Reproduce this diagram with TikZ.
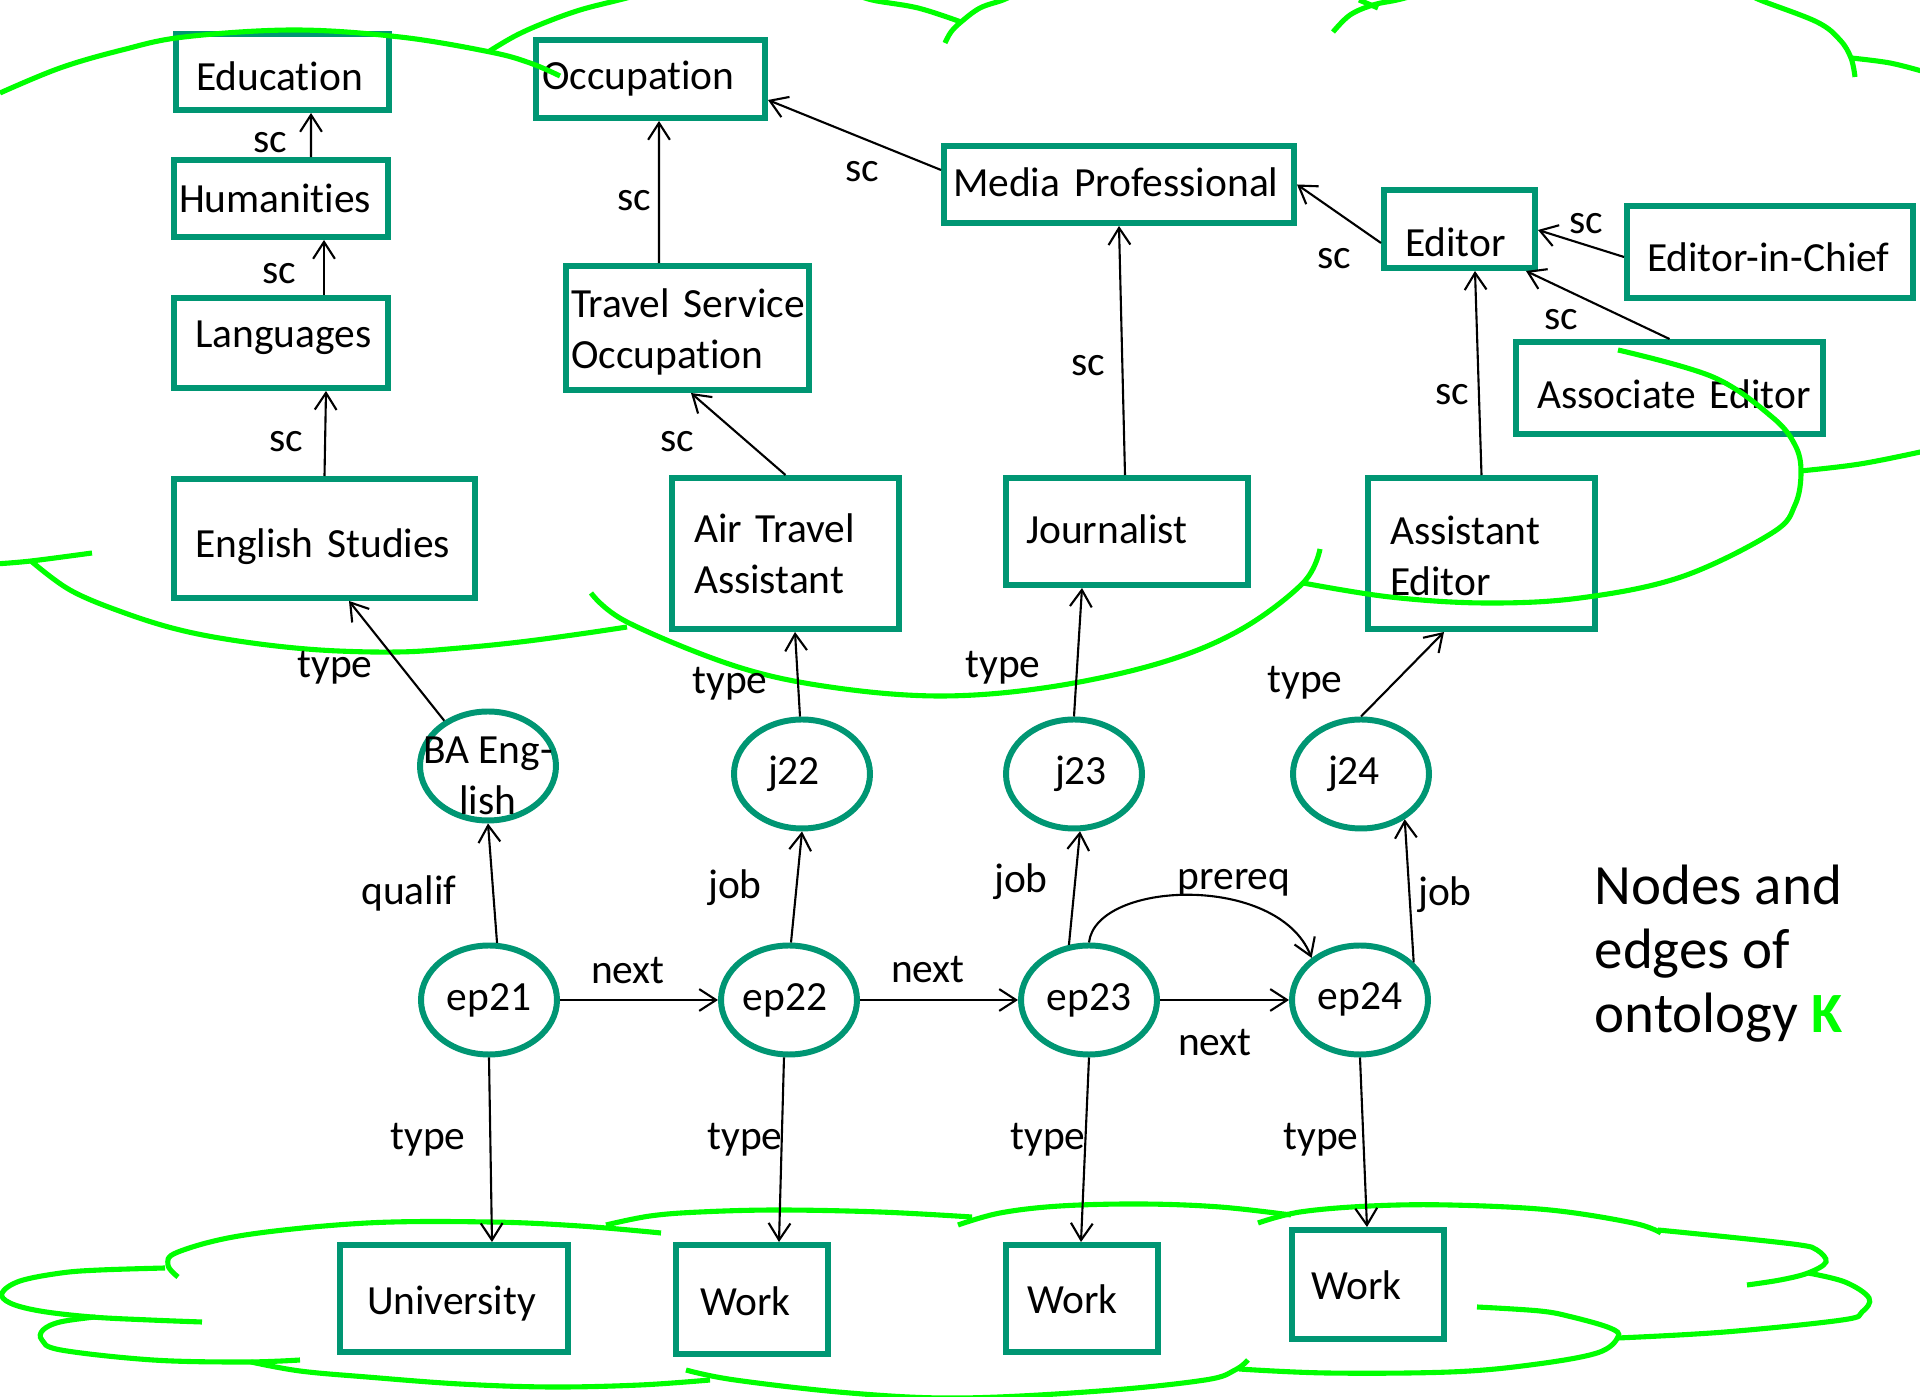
\documentclass[tikz,border=0pt]{standalone}
\usepackage{fontspec}
\setmainfont{Carlito}[Ligatures=NoCommon]
\usetikzlibrary{arrows.meta,shapes.geometric}
\definecolor{boxteal}{RGB}{0,150,115}
\definecolor{cloudgreen}{RGB}{0,255,0}
\newcommand{\bodyfs}{\fontsize{11.8pt}{14.5pt}\selectfont}
\newcommand{\titlefs}{\fontsize{16.2pt}{18.2pt}\selectfont}
\newcommand{\dn}[2]{\raisebox{-#1}[\height][\depth]{#2}}
\begin{document}
\begin{tikzpicture}[x=0.1mm,y=-0.1mm,
  box/.style={draw=boxteal, line width=1.7pt, rectangle, inner ysep=0pt, align=left, font=\bodyfs},
  circ/.style={draw=boxteal, line width=1.7pt, ellipse, inner sep=0pt, minimum width=13.6mm, minimum height=10.9mm, font=\bodyfs},
  arr/.style={-{Straight Barb[length=4.8pt,width=6.2pt]}, line width=0.6pt, black},
  lbl/.style={font=\bodyfs, inner sep=0pt},
  cloud/.style={draw=cloudgreen, line width=1.45pt},
  smoothc/.style={smooth, tension=0.6}
]
\fill[white] (0,0) rectangle (1920,1397);
\useasboundingbox (0,0) rectangle (1920,1397);

% boxes
\node[box, minimum width=21.3mm, minimum height=7.6mm, inner xsep=2mm, text width=17.3mm] (edu) at (282.5,72) {\dn{0.4mm}{Education}};
\node[box, minimum width=21.4mm, minimum height=7.7mm, inner xsep=0.5mm, text width=20.4mm] (hum) at (281,198.5) {\mbox{Humanities}};
\node[box, minimum width=21.4mm, minimum height=9.0mm, inner xsep=2.1mm, text width=17.2mm] (lang) at (281,343) {\dn{-0.5mm}{Languages}};
\node[box, minimum width=30.1mm, minimum height=11.9mm, inner xsep=2.1mm, text width=25.9mm] (eng) at (324.5,538.5) {\dn{0.8mm}{English Studies}};
\node[box, minimum width=22.9mm, minimum height=7.8mm, inner xsep=0.6mm, text width=21.7mm] (occ) at (650.5,79) {\mbox{Occupation}};
\node[box, minimum width=24.3mm, minimum height=12.4mm, inner xsep=0.5mm, text width=23.3mm] (tso) at (687.5,328) {\dn{0.4mm}{Travel Service}\\\dn{0.4mm}{Occupation}};
\node[box, minimum width=22.7mm, minimum height=15.1mm, inner xsep=2.2mm, text width=18.3mm] (ata) at (785.5,553.5) {\mbox{Air Travel}\\\mbox{Assistant}};
\node[box, minimum width=35.0mm, minimum height=7.7mm, inner xsep=0.9mm, text width=33.2mm] (med) at (1119,184.5) {\dn{-0.2mm}{Media Professional}};
\node[box, minimum width=15.1mm, minimum height=7.8mm, inner xsep=2.1mm, text width=10.9mm] (edt) at (1459.5,229) {\dn{1.3mm}{Editor}};
\node[box, minimum width=28.6mm, minimum height=9.2mm, inner xsep=2mm, text width=24.6mm] (eic) at (1770,252) {\dn{0.5mm}{Editor-in-Chief}};
\node[box, minimum width=30.7mm, minimum height=9.2mm, inner xsep=2.1mm, text width=26.5mm] (aed) at (1669.5,388) {\dn{0.6mm}{Associate Editor}};
\node[box, minimum width=24.2mm, minimum height=10.7mm, inner xsep=2mm, text width=20.2mm] (jou) at (1127,531.5) {\dn{-0.2mm}{Journalist}};
\node[box, minimum width=22.7mm, minimum height=15.1mm, inner xsep=2.2mm, text width=18.3mm] (ase) at (1481.5,553.5) {\dn{0.2mm}{Assistant}\\\dn{0.2mm}{Editor}};
\node[box, minimum width=22.8mm, minimum height=10.7mm, inner xsep=2.7mm, text width=17.4mm] (uni) at (454,1298.5) {\dn{0.5mm}{University}};
\node[box, minimum width=15.2mm, minimum height=10.9mm, inner xsep=2.4mm, text width=10.4mm] (wk1) at (752,1299.5) {\dn{0.2mm}{Work}};
\node[box, minimum width=15.2mm, minimum height=10.7mm, inner xsep=2.1mm, text width=11mm] (wk2) at (1082,1298.5) {\dn{0.1mm}{Work}};
\node[box, minimum width=15.2mm, minimum height=10.9mm, inner xsep=1.9mm, text width=11.4mm] (wk3) at (1368,1284.5) {\dn{0.1mm}{Work}};

% ellipses
\node[circ] (ba) at (488,766) {\raisebox{-6.6pt}[0pt][0pt]{\makebox[0pt]{\begin{tabular}{@{}c@{}}BA Eng-\\lish\end{tabular}}}};
\node[circ] (j22) at (802,774) {\kern-1.6mm j22};
\node[circ] (j23) at (1074,774) {j23\kern-1.4mm};
\node[circ] (j24) at (1361,774) {\kern-1.4mm j24};
\node[circ] (ep21) at (489,1000) {ep21};
\node[circ] (ep22) at (789,1000) {\kern-0.8mm ep22};
\node[circ] (ep23) at (1089,1000) {ep23};
\node[circ] (ep24) at (1360,1000) {\raisebox{2pt}{ep24}};

% title
\node[font=\titlefs, align=left, anchor=north west, inner sep=0pt] (title) at (1594,864) {Nodes and\\edges of\\ontology {\bfseries\color{cloudgreen}K}};

% clouds
\begin{scope}
\clip (0,0) rectangle (1920,1397);
\draw[cloud] plot[smoothc] coordinates {(0,93) (60,68) (122,50) (184,37) (294,30) (400,37) (490,52) (530,63) (560,76)};
\draw[cloud] plot[smoothc] coordinates {(488,52) (515,36) (544,23) (580,10) (619,0) (650,-8)};
\draw[cloud] plot[smoothc] coordinates {(850,-8) (872,0) (918,8) (961,22)};
\draw[cloud] plot[smoothc] coordinates {(945,43) (951,32) (961,22) (980,8) (1003,0) (1020,-8)};
\draw[cloud] plot[smoothc] coordinates {(1333,32) (1350,15) (1373,5) (1397,0) (1420,-6)};
\draw[cloud] (1359,0) -- (1378,8);
\draw[cloud] plot[smoothc] coordinates {(1745,-8) (1760,0) (1817,22) (1840,40) (1851,58) (1855,77)};
\draw[cloud] plot[smoothc] coordinates {(1851,58) (1890,63) (1925,72)};
\draw[cloud] plot[smoothc] coordinates {(1800,471) (1860,464) (1925,451)};
\draw[cloud] plot[smoothc] coordinates {(1618,350) (1713,377) (1772,417) (1795,445) (1801,472) (1795,505) (1772,533) (1681,577) (1580,598) (1485,603) (1390,597) (1303,583)};
\draw[cloud] plot[smoothc] coordinates {(1320,549) (1303,583) (1240,630) (1160,663) (1050,687) (940,696) (830,687) (735,666) (627,622) (591,593)};
\draw[cloud] plot[smoothc] coordinates {(31,561) (70,590) (122,612) (180,630) (245,642) (320,650) (398,652) (460,648) (520,642) (580,634) (627,627)};
\draw[cloud] plot[smoothc] coordinates {(-5,564) (31,561) (92,553)};
% bottom
\draw[cloud] plot[smoothc] coordinates {(178,1277) (168,1265) (178,1252) (245,1235) (367,1223) (490,1222) (580,1226) (661,1233)};
\draw[cloud] plot[smoothc] coordinates {(165,1268) (100,1270) (61,1273) (20,1281) (2,1293) (10,1303) (40,1311) (92,1317) (150,1320) (202,1322)};
\draw[cloud] plot[smoothc] coordinates {(95,1317) (60,1322) (43,1330) (42,1340) (61,1350) (153,1360) (245,1362) (300,1360)};
\draw[cloud] plot[smoothc] coordinates {(251,1362) (300,1371) (367,1377) (460,1384) (551,1387) (640,1385) (710,1380)};
\draw[cloud] plot[smoothc] coordinates {(686,1370) (735,1380) (850,1393) (960,1398) (1100,1391) (1205,1380) (1235,1370) (1248,1360)};
\draw[cloud] plot[smoothc] coordinates {(1477,1307) (1540,1311) (1572,1317) (1610,1328) (1618,1337) (1597,1353) (1530,1365) (1450,1372) (1327,1373) (1239,1369)};
\draw[cloud] plot[smoothc] coordinates {(1808,1273) (1845,1282) (1869,1298) (1862,1312) (1842,1320) (1725,1332) (1618,1338)};
\draw[cloud] plot[smoothc] coordinates {(1658,1230) (1738,1238) (1800,1245) (1817,1250) (1826,1262) (1808,1273) (1780,1280) (1747,1285)};
\draw[cloud] plot[smoothc] coordinates {(1258,1223) (1300,1212) (1370,1206) (1450,1205) (1550,1210) (1633,1223) (1661,1233)};
\draw[cloud] plot[smoothc] coordinates {(958,1225) (1000,1213) (1060,1206) (1142,1204) (1220,1207) (1291,1215)};
\draw[cloud] plot[smoothc] coordinates {(606,1225) (650,1216) (700,1212) (778,1210) (880,1212) (972,1217)};
\end{scope}

% connectors
\draw[arr] ([xshift=3mm]hum.north) -- ([xshift=2.85mm]edu.south);
\draw[arr] ([xshift=4.3mm]lang.north) -- ([xshift=4.3mm]hum.south);
\draw[arr] (eng.north) -- ([xshift=4.5mm]lang.south);
\draw[arr] ([xshift=-2.85mm]tso.north) -- ([xshift=0.85mm]occ.south);
\draw[arr] (ata.north) -- ([xshift=0.35mm]tso.south);
\draw[arr] ([yshift=1.45mm]med.west) -- ([yshift=-2.1mm]occ.east);
\draw[arr] ([yshift=-1.4mm]edt.west) -- (med.east);
\draw[arr] ([yshift=-0.5mm]eic.west) -- ([yshift=-0.1mm]edt.east);
\draw[arr] (aed.north) -- ([xshift=6.65mm]edt.south);
\draw[arr] ([xshift=-0.2mm]jou.north) -- (med.south);
\draw[arr] (ase.north) -- ([xshift=1.55mm]edt.south);
\draw[arr] (ba.134) -- ([xshift=2.45mm]eng.south);
\draw[arr] (j22.92) -- ([xshift=0.95mm]ata.south);
\draw[arr] (j23.north) -- ([xshift=-4.5mm]jou.south);
\draw[arr] (j24.north) -- ([xshift=-3.75mm]ase.south);
\draw[arr] (ep21.82) -- (ba.south);
\draw[arr] (ep22.88) -- (j22.south);
\draw[arr] (ep23.110) -- (j23.276);
\draw[arr] (ep24.35) -- (j24.314);
\draw[arr] (ep21.east) -- (ep22.west);
\draw[arr] (ep22.east) -- (ep23.west);
\draw[arr] (ep23.east) -- (ep24.west);
\draw[arr] (ep23.north) .. controls +(7,-62) and +(-34,-85) .. (ep24.139);
\draw[arr] (ep21.south) -- ([xshift=3.8mm]uni.north);
\draw[arr] (ep22.265) -- ([xshift=2.7mm]wk1.north);
\draw[arr] (ep23.south) -- ([xshift=-0.1mm]wk2.north);
\draw[arr] (ep24.south) -- ([xshift=-0.1mm]wk3.north);

% labels
\node[lbl] (l1) at (270,143) {sc};
\node[lbl] (l2) at (279,274) {sc};
\node[lbl] (l3) at (286,442) {sc};
\node[lbl] (l4) at (634,201) {sc};
\node[lbl] (l5) at (677,442) {sc};
\node[lbl] (l6) at (862,172) {sc};
\node[lbl] (l7) at (1334,259) {sc};
\node[lbl] (l8) at (1586,224) {sc};
\node[lbl] (l9) at (1561,320) {sc};
\node[lbl] (l10) at (1088,366) {sc};
\node[lbl] (l11) at (1452,395) {sc};
\node[lbl] (l12) at (335,668) {type};
\node[lbl] (l13) at (730,684) {type};
\node[lbl] (l14) at (1003,668) {type};
\node[lbl] (l15) at (1305,683) {type};
\node[lbl] (l16) at (409,893) {qualif};
\node[lbl] (l17) at (735,888) {job};
\node[lbl] (l18) at (1021,882) {job};
\node[lbl] (l19) at (1445,895) {job};
\node[lbl] (l20) at (1234,883) {prereq};
\node[lbl] (l21) at (628,971) {next};
\node[lbl] (l22) at (928,970) {next};
\node[lbl] (l23) at (1215,1043) {next};
\node[lbl] (l24) at (428,1140) {type};
\node[lbl] (l25) at (745,1140) {type};
\node[lbl] (l26) at (1048,1140) {type};
\node[lbl] (l27) at (1321,1140) {type};
\end{tikzpicture}
\end{document}
